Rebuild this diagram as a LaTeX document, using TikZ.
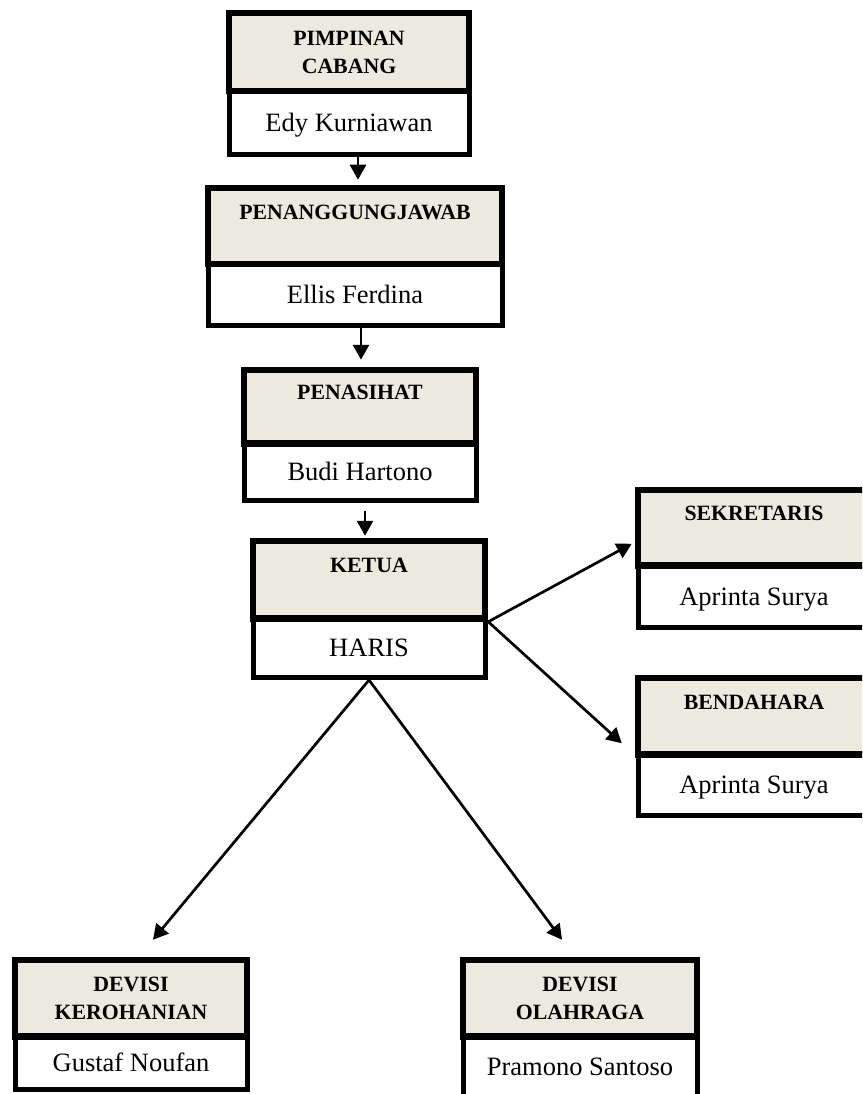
\documentclass[tikz,border=0pt]{standalone}
\usepackage{fontspec}
\setmainfont{Liberation Serif}
\usetikzlibrary{arrows.meta}
\definecolor{hdrfill}{RGB}{236,233,223}
\begin{document}
\begin{tikzpicture}[x=1pt,y=-1pt,
  hdr/.style={draw, line width=6.5pt, fill=hdrfill, inner sep=0pt, align=center,
    font=\fontsize{21.8}{28}\selectfont\bfseries},
  nm/.style={draw, line width=5pt, fill=white, inner sep=0pt,
    font=\fontsize{26.5}{30}\selectfont, text height=17pt, text depth=0pt},
  arr/.style={line width=2.7pt, -{Triangle[length=15pt,width=16pt]}}]
\useasboundingbox (0,0) rectangle (862,1094);
\clip (0,0) rectangle (862,1094);
% Box 1
\node[nm, minimum width=240pt, minimum height=63.5pt] (n1) at (349,122.75) {Edy Kurniawan};
\node[hdr, minimum width=240pt, minimum height=78pt] (h1) at (349,52) {PIMPINAN\\CABANG};
% Box 2
\node[nm, minimum width=294pt, minimum height=61.5pt] (n2) at (355,294.75) {Ellis Ferdina};
\node[hdr, minimum width=294pt, minimum height=76pt] (h2) at (355,226) {PENANGGUNGJAWAB\\\mbox{}};
% Box 3
\node[nm, minimum width=232pt, minimum height=57pt] (n3) at (360,472) {Budi Hartono};
\node[hdr, minimum width=232pt, minimum height=73.5pt] (h3) at (360,406.75) {PENASIHAT\\\mbox{}};
% Box 4
\node[nm, minimum width=232pt, minimum height=59pt] (n4) at (369,648) {HARIS};
\node[hdr, minimum width=232pt, minimum height=77.5pt] (h4) at (369,579.75) {KETUA\\\mbox{}};
% Box 5
\node[nm, minimum width=232pt, minimum height=62pt] (n5) at (754,596.5) {Aprinta Surya};
\node[hdr, minimum width=232pt, minimum height=75.5pt] (h5) at (754,527.75) {SEKRETARIS\\\mbox{}};
% Box 6
\node[nm, minimum width=232pt, minimum height=61pt] (n6) at (754,785) {Aprinta Surya};
\node[hdr, minimum width=232pt, minimum height=76.5pt] (h6) at (754,716.25) {BENDAHARA\\\mbox{}};
% Box 7
\node[nm, minimum width=232pt, minimum height=53pt] (n7) at (131,1063) {Gustaf Noufan};
\node[hdr, minimum width=232pt, minimum height=76.5pt] (h7) at (131,998.25) {DEVISI\\KEROHANIAN};
% Box 8
\node[nm, minimum width=234pt, minimum height=61pt] (n8) at (580,1067) {Pramono Santoso};
\node[hdr, minimum width=234pt, minimum height=76.5pt] (h8) at (580,998.25) {DEVISI\\OLAHRAGA};
% Arrows
\draw[arr] ([xshift=9pt]n1.south) -- ([xshift=3pt,yshift=5pt]h2.north);
\draw[arr] ([xshift=6pt]n2.south) -- ([xshift=1pt,yshift=7pt]h3.north);
\draw[arr] ([xshift=5pt,yshift=-7.5pt]n3.south) -- ([xshift=-4pt,yshift=2pt]h4.north);
\draw[arr] (h4.south east) -- ([xshift=-3pt,yshift=-16pt]h5.west);
\draw[arr] (h4.south east) -- ([xshift=-13pt,yshift=-27pt]h6.west);
\draw[arr] (n4.south) -- ([xshift=22pt,yshift=17pt]h7.north);
\draw[arr] (n4.south) -- ([xshift=-18pt,yshift=17pt]h8.north);
\end{tikzpicture}
\end{document}
